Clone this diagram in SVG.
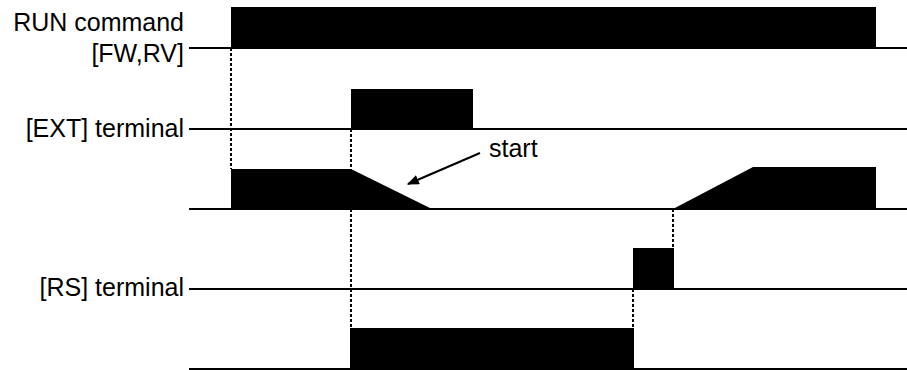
<svg xmlns="http://www.w3.org/2000/svg" width="907" height="370" viewBox="0 0 907 370">
<style>
.lbl{font-family:"Liberation Sans",Arial,sans-serif;font-size:25px;fill:#000}
.r{text-anchor:end}
.base{stroke:#000;stroke-width:2;fill:none}
.sig{fill:#000;stroke:none}
.dot{stroke:#000;stroke-width:2;stroke-dasharray:3 2;fill:none}
</style>
<defs>
<marker id="ah" viewBox="0 0 10 10" refX="9" refY="5" markerWidth="12" markerHeight="10" orient="auto" markerUnits="userSpaceOnUse" preserveAspectRatio="none">
<path d="M0,0 L10,5 L0,10 Z" fill="#000"/>
</marker>
</defs>
<rect width="907" height="370" fill="#fff"/>
<g id="run">
<text class="lbl r" x="184" y="31">RUN command</text>
<text class="lbl r" x="184" y="62">[FW,RV]</text>
<line class="base" x1="189" y1="48" x2="907" y2="48"/>
<rect class="sig" x="231" y="7" width="645" height="41"/>
</g>
<g id="ext">
<text class="lbl r" x="184" y="137">[EXT] terminal</text>
<line class="base" x1="189" y1="129" x2="907" y2="129"/>
<rect class="sig" x="351" y="89" width="122" height="40"/>
</g>
<g id="output">
<line class="base" x1="189" y1="209" x2="907" y2="209"/>
<path class="sig" d="M231,209 L231,169 L351,169 L432,209 Z"/>
<path class="sig" d="M673,209 L753,167 L876,167 L876,209 Z"/>
<text class="lbl" x="489" y="157">start</text>
</g>
<g id="rs">
<text class="lbl r" x="184" y="296">[RS] terminal</text>
<line class="base" x1="189" y1="289" x2="907" y2="289"/>
<rect class="sig" x="633" y="248" width="41" height="41"/>
</g>
<g id="bottom">
<line class="base" x1="189" y1="369" x2="907" y2="369"/>
<rect class="sig" x="350" y="328" width="284" height="41"/>
</g>
<g id="connectors">
<line class="dot" x1="231" y1="48" x2="231" y2="169"/>
<line class="dot" x1="351" y1="129" x2="351" y2="328"/>
<line class="dot" x1="673" y1="209" x2="673" y2="248"/>
<line class="dot" x1="633" y1="289" x2="633" y2="328"/>
<line x1="480" y1="153" x2="408" y2="184" stroke="#000" stroke-width="2" marker-end="url(#ah)"/>
</g>
</svg>
